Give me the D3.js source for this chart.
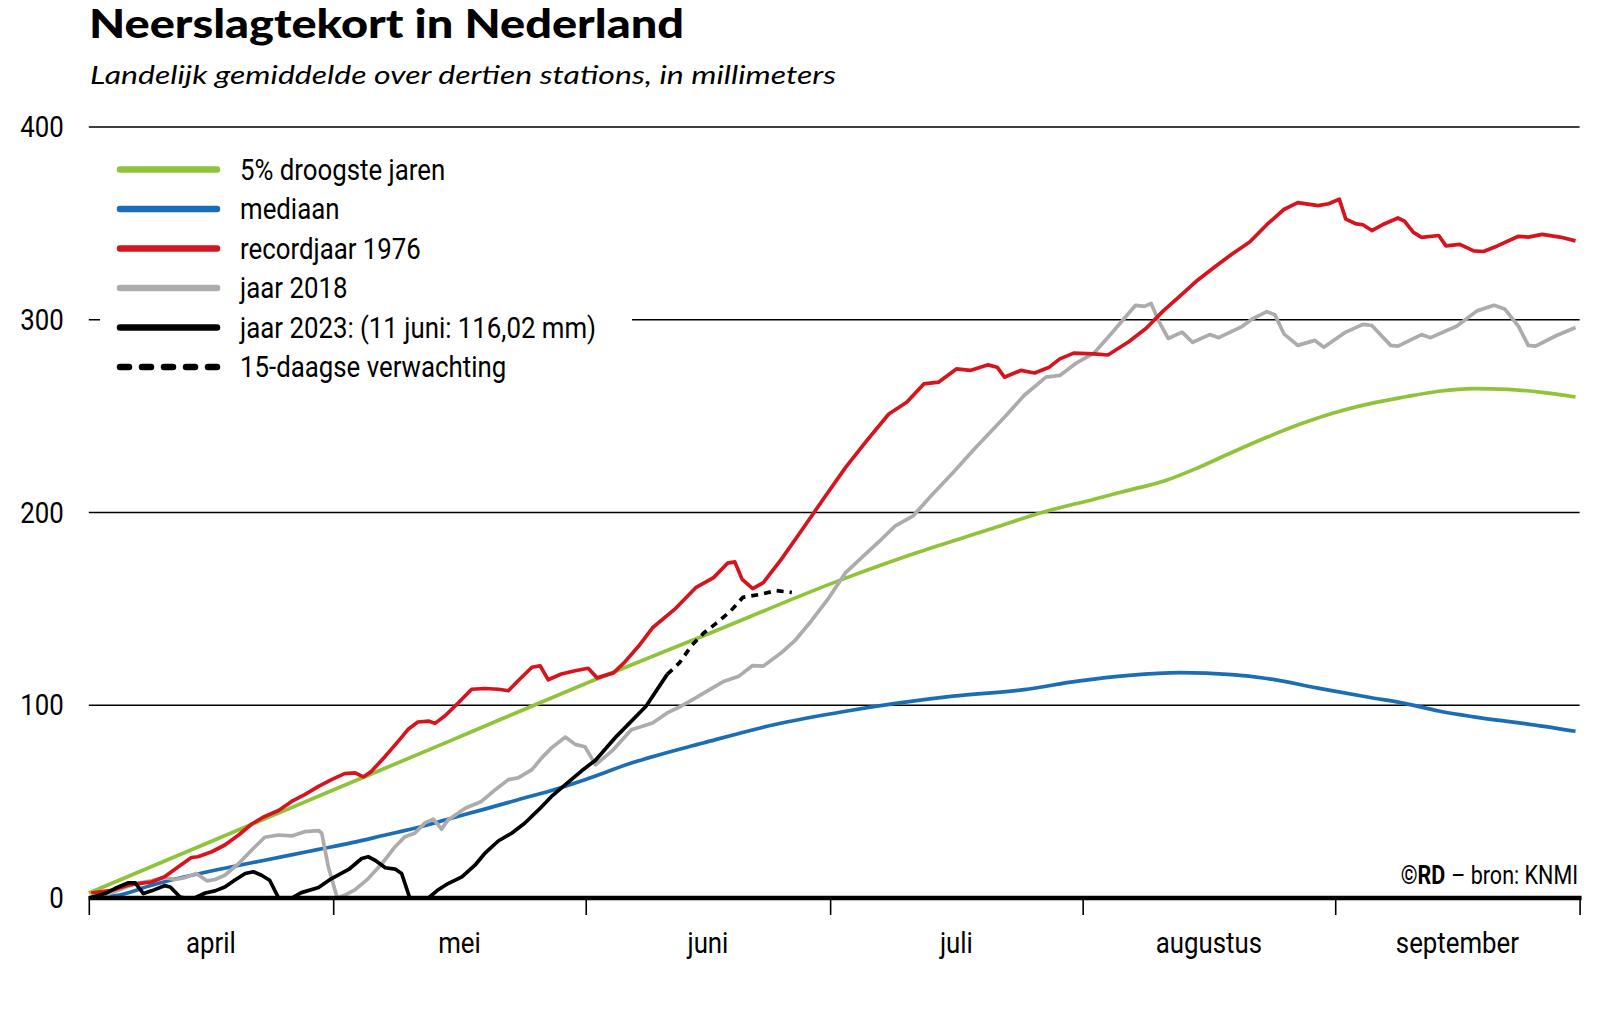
<!DOCTYPE html>
<html><head><meta charset="utf-8">
<script src="https://cdn.jsdelivr.net/npm/d3@7"></script>
<style>
body{margin:0;background:#fff;}
svg{display:block}
</style></head><body>
<svg id="c" width="1600" height="1017"></svg>
<script>
// x values: days since 1 April; y values: precipitation deficit in mm
const monthStarts = [0, 30, 61, 91, 122, 153, 183];
const monthLabels = ["april", "mei", "juni", "juli", "augustus", "september"];
const yTicks = [0, 100, 200, 300, 400];
const legendLabels = ["5% droogste jaren", "mediaan", "recordjaar 1976", "jaar 2018", "jaar 2023: (11 juni: 116,02 mm)", "15-daagse verwachting"];

const droogste5 = [[0,2.6],[15,29.3],[30,56],[45,82.7],[62.5,113.9],[75.4,135.9],[92.5,165.3],[101.7,179.2],[110.4,191],[117,200],[123.4,206.9],[127.7,211.6],[131.9,216.2],[136.1,223.1],[140.3,231.1],[144.6,239],[148.8,246],[153,251.9],[157.3,256.5],[161.5,259.9],[165.7,262.9],[170,264.3],[174.2,263.9],[178.4,262.3],[182.5,259.9]];

const mediaan = [[0,0],[3.6,1.4],[7.7,6.6],[11.8,11],[15.9,14.8],[20,18.3],[24.1,21.7],[28.2,25.2],[32.3,28.7],[36.4,32.7],[40.5,36.7],[44.5,41.4],[48.6,46.1],[52.7,51],[56.8,55.8],[60.9,61.4],[66.6,70],[75.4,80.4],[84.1,89.9],[92.9,96.9],[99.5,101.2],[106.1,104.7],[114.8,108.1],[121.4,112.5],[127.7,115.5],[134,116.9],[140.3,115.9],[144.6,113.9],[150.9,108.9],[157.3,104],[161.5,101],[165.7,97],[170,94],[176.3,90.5],[182.5,86.5]];

const record1976 = [[0.3,2.6],[2.8,4],[4.8,6.6],[6.1,7.5],[7.7,8.3],[9.3,11],[11,16.2],[12.6,21],[13.4,21.4],[15.1,24],[16.7,27.5],[18.4,32.7],[20,38.4],[21.6,42.3],[23.3,45.4],[24.9,50.1],[26.5,53.6],[28.2,57.9],[29.8,61.4],[31.4,64.5],[32.7,64.9],[33.7,62.8],[34.7,65.7],[36.4,73.6],[38,81.4],[39.2,87.5],[40.4,91.3],[41.7,91.8],[42.5,90.6],[43.7,94.4],[45.4,101.4],[47,108.3],[48.6,108.7],[50.3,108.3],[51.5,107.5],[52.7,112.7],[54.4,119.7],[55.4,120.5],[56.4,113.2],[58,116.2],[59.7,117.9],[61.3,119.2],[62.4,114.2],[64.4,116.8],[65.7,122],[67.5,130.7],[69.2,140.2],[71.9,149.7],[74.5,161],[76.7,166.2],[78.4,173.7],[79.3,174.4],[80.2,165.3],[81.5,160.5],[82.8,163.6],[85,175.7],[87.6,191.3],[90.3,207.8],[92.9,223.4],[95.5,237.3],[98.2,251.1],[100.4,257.2],[102.5,266.7],[104.3,267.6],[106.5,274.5],[108.2,273.7],[110.4,276.6],[111.5,275.4],[112.4,270.2],[114.4,273.7],[116.1,272.4],[117.9,275.4],[119.2,279.7],[120.9,282.7],[123.4,282.3],[125.1,281.7],[127.7,288.7],[129.8,295.6],[131.9,304.6],[134,312.5],[136.1,320.5],[138.2,327.4],[140.3,334],[142.5,340.3],[144.6,349.3],[146.7,357.2],[148.4,360.8],[150.9,359.2],[152.2,360.2],[153.5,362.6],[154.3,352.2],[155.6,349.7],[156.4,349.3],[157.5,346.3],[159,349.7],[160.7,352.8],[161.5,351.2],[162.6,345.3],[163.6,342.7],[165.7,343.7],[166.6,338.3],[168.3,339.1],[170,335.7],[171.2,335.4],[172.9,338.3],[175.5,343.3],[176.7,342.9],[178.4,344.3],[180.6,342.9],[182.5,340.9]];

const jaar2018 = [[0.3,0],[2,1.4],[3.6,4],[5.7,7.5],[7.7,8.9],[9.3,10.6],[10.6,9.6],[11.8,10.6],[13.2,12.7],[14.5,8.9],[15.5,9.6],[16.7,11.8],[18.4,17.9],[20,24.9],[21.6,31.5],[23.3,32.7],[24.9,32.2],[26.5,34.4],[28.2,35],[28.6,33.6],[29.4,16.2],[30.5,0],[31.4,1.4],[32.7,4.3],[34.3,10.1],[36,17.9],[37.6,26.6],[38.8,31.8],[40,33.6],[41.3,39.1],[42.3,40.9],[43.3,35.7],[44.1,40.5],[46.2,46.6],[48.2,50.1],[49.9,56.2],[51.5,61.4],[52.7,62.3],[54.4,66.6],[55.6,72.7],[56.8,77.9],[58.5,83.5],[59.7,79.7],[60.9,78.5],[62.2,69.1],[64.4,77],[66.6,87.3],[69.2,90.8],[71,96],[72.7,99.5],[74.5,103.8],[76.2,108.1],[78,112.5],[79.8,115.1],[81.5,120.6],[82.8,120.3],[85,127.2],[86.8,134.1],[88.5,142.8],[90.7,154.9],[92.9,168.8],[95.1,177.5],[97.3,186.1],[99,193.1],[101.2,198.3],[103.4,208.7],[106.1,220.8],[108.7,232.9],[112.6,250.3],[114.8,260.7],[117.5,270.2],[119.2,271.1],[121.3,277.8],[123.4,282.7],[125.5,292.7],[127.7,303.6],[128.5,307.5],[129.6,306.9],[130.4,308.5],[131.3,299.6],[132.5,290.3],[134.2,293.6],[135.5,288.3],[137.6,292.3],[138.7,290.7],[141.6,296.6],[142.9,300.6],[144.6,304.2],[145.6,302.6],[146.7,292.7],[148.4,286.7],[150.5,289.3],[151.6,285.7],[154.3,293.6],[156.4,297.6],[157.5,297],[159.8,286.7],[160.7,286.3],[163.6,292.3],[164.7,290.7],[167.9,296.6],[170.4,304.6],[172.5,307.5],[173.8,305.6],[175.5,296.6],[176.7,286.7],[177.6,286.3],[180.1,291.7],[182.5,296]];

const jaar2023 = [[0,0],[2,2.3],[3.2,4.9],[4.8,7.8],[5.7,7.8],[6.7,2.3],[7.7,3.7],[9.3,6.4],[10,5.7],[11.2,0.5],[11.8,0],[13,0],[14.3,2.6],[15.5,3.7],[16.7,5.7],[17.9,9.2],[19.2,12.7],[20.2,13.6],[21.2,11.8],[22.2,9.2],[23.3,0],[24.9,0],[26.1,2.8],[28.2,5.4],[29.8,10.1],[31.9,14.8],[33.5,20.5],[34.3,21.4],[35.1,19.7],[36.4,15.7],[37.6,15],[38.4,12.7],[39.4,0],[41.7,0],[42.9,4.3],[44.1,7.5],[45.8,11],[47.4,17],[48.6,23.1],[50.3,29.7],[51.9,33.6],[53.5,38.8],[55.2,45.7],[56.8,52.7],[58.5,58.8],[60.5,66],[62.2,71.5],[64.8,84],[68.4,99.5],[71,116.02]];

const verwachting = [[71,116.02],[72.5,122],[74,131],[75.5,137.5],[77,142.5],[78.7,148.5],[80.3,156],[82.4,157.5],[84.4,159.5],[86.3,158.5]];

// ---- drawing ----
const svg = d3.select("#c");
const x = d3.scaleLinear().domain([0, 183]).range([88.8, 1579.6]);
const y = d3.scaleLinear().domain([0, 400]).range([898, 127]);
const COND = 'Roboto, "Noto Sans", sans-serif';
const SQUEEZE = 0.86;
function condense(sel) {
  sel.each(function () {
    const w = this.getComputedTextLength();
    d3.select(this).attr("textLength", w * SQUEEZE).attr("lengthAdjust", "spacingAndGlyphs");
  });
}

// title
svg.append("text").attr("x", 89).attr("y", 38)
  .attr("font-family", "Lato, 'Open Sans', sans-serif").attr("font-weight", 900)
  .attr("font-size", 40).attr("textLength", 595).attr("lengthAdjust", "spacingAndGlyphs")
  .text("Neerslagtekort in Nederland");
svg.append("text").attr("x", 90).attr("y", 84)
  .attr("font-family", "Lato, 'Open Sans', sans-serif").attr("font-style", "italic")
  .attr("font-size", 26).attr("textLength", 746).attr("lengthAdjust", "spacingAndGlyphs")
  .text("Landelijk gemiddelde over dertien stations, in millimeters");

// gridlines
svg.append("g").selectAll("line").data(yTicks.filter(d => d > 0)).join("line")
  .attr("x1", x(0)).attr("x2", x(183)).attr("y1", d => y(d)).attr("y2", d => y(d))
  .attr("stroke", "#000").attr("stroke-width", 1.6);

// y axis labels
const yAxis = svg.append("g").attr("transform", `translate(${x(0)},0)`)
  .call(d3.axisLeft(y).tickValues(yTicks).tickSize(0).tickPadding(25));
yAxis.select(".domain").remove();
yAxis.selectAll("text").attr("font-family", COND).attr("font-size", 30).attr("fill", "#000").call(condense);

// legend background (hides the gridline behind the legend)
svg.append("rect").attr("x", 100).attr("y", 140).attr("width", 532).attr("height", 245).attr("fill", "#fff");

// series
const lineSmooth = d3.line().x(d => x(d[0])).y(d => y(d[1])).curve(d3.curveMonotoneX);
const lineRaw = d3.line().x(d => x(d[0])).y(d => y(d[1]));
const series = [
  {data: droogste5, color: "#8fc43a", gen: lineSmooth},
  {data: mediaan, color: "#1b6eb5", gen: lineSmooth},
  {data: jaar2018, color: "#acacac", gen: lineRaw},
  {data: record1976, color: "#d7141e", gen: lineRaw},
  {data: jaar2023, color: "#000", gen: lineRaw},
];
series.forEach(s => {
  svg.append("path").datum(s.data).attr("d", s.gen).attr("fill", "none")
    .attr("stroke", s.color).attr("stroke-width", 3.7).attr("stroke-linejoin", "round");
});
svg.append("path").datum(verwachting).attr("d", lineRaw).attr("fill", "none")
  .attr("stroke", "#000").attr("stroke-width", 3.7).attr("stroke-dasharray", "7,6");

// zero axis
svg.append("line").attr("x1", x(0)).attr("x2", x(183) + 2).attr("y1", y(0)).attr("y2", y(0))
  .attr("stroke", "#000").attr("stroke-width", 4.5);

// x axis
const xAxis = svg.append("g").attr("transform", `translate(0,${y(0)})`)
  .call(d3.axisBottom(x).tickValues(monthStarts).tickSize(17).tickFormat(""));
xAxis.select(".domain").remove();
xAxis.selectAll("line").attr("stroke", "#000").attr("stroke-width", 1.6);
svg.append("g").selectAll("text").data(monthLabels).join("text")
  .attr("x", (d, i) => x((monthStarts[i] + monthStarts[i + 1]) / 2))
  .attr("y", 953).attr("text-anchor", "middle")
  .attr("font-family", COND).attr("font-size", 30).text(d => d).call(condense);

// legend
const legendStyles = [
  {color: "#8fc43a"}, {color: "#1b6eb5"}, {color: "#d7141e"}, {color: "#acacac"}, {color: "#000"}, {color: "#000", dash: "9,13"}
];
const lg = svg.append("g");
legendLabels.forEach((lab, i) => {
  const ly = 169.5 + i * 39.5;
  lg.append("line").attr("x1", 120).attr("x2", 217).attr("y1", ly).attr("y2", ly)
    .attr("stroke", legendStyles[i].color).attr("stroke-width", 6.5)
    .attr("stroke-linecap", "round")
    .attr("stroke-dasharray", legendStyles[i].dash || null);
  lg.append("text").attr("x", 240).attr("y", ly + 10).attr("font-family", COND)
    .attr("font-size", 30).text(lab).call(condense);
});

// credit: two separate texts
const cr2 = svg.append("text").attr("x", 1578).attr("y", 884).attr("text-anchor", "end")
  .attr("font-family", COND).attr("font-size", 25).text("– bron: KNMI").call(condense);
const w2 = cr2.node().getComputedTextLength() * 0 + (+cr2.attr("textLength"));
svg.append("text").attr("x", 1578 - w2 - 6).attr("y", 884).attr("text-anchor", "end")
  .attr("font-family", COND).attr("font-weight", "bold").attr("font-size", 25)
  .text("©RD").call(condense);
</script>
</body></html>
